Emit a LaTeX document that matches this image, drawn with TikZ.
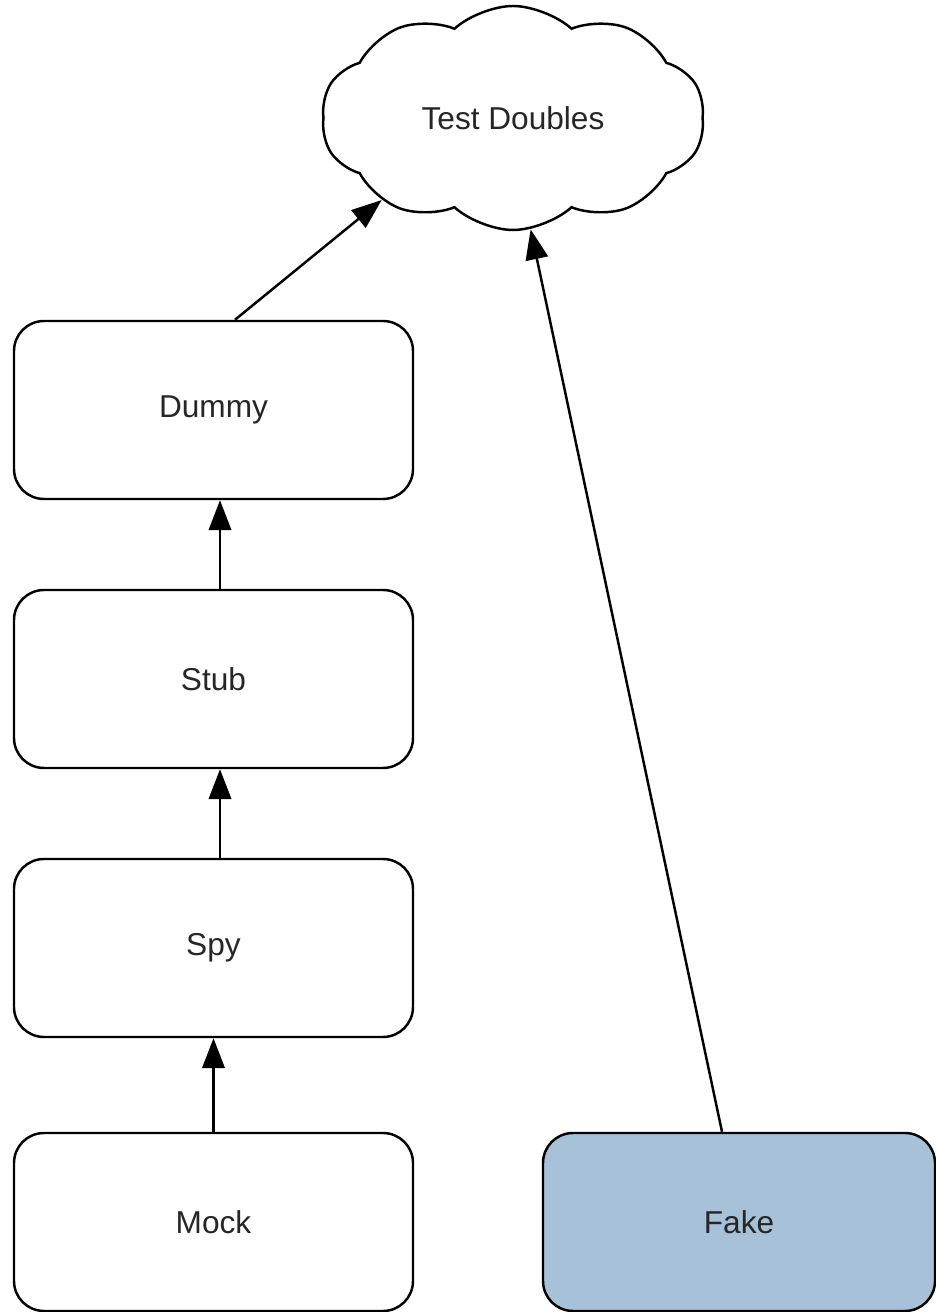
\documentclass[tikz,border=0pt]{standalone}
\usepackage{fontspec}
\setmainfont{Liberation Sans}
\usepackage{tikz}
\usetikzlibrary{arrows.meta,shapes.symbols}
\definecolor{fakeblue}{RGB}{167,194,216}

\begin{document}
\begin{tikzpicture}[
    >={Triangle[length=0.6cm,width=0.45cm]},
    line width=1.4pt,
    font=\fontsize{18}{22}\selectfont,
    kind/.style={draw,rounded corners=0.6cm,minimum width=7.98cm,minimum height=3.56cm,text=black!85},
    cloudbox/.style={draw,cloud,cloud puffs=10,cloud puff arc=85,cloud ignores aspect,
                     minimum width=7.66cm,minimum height=4.48cm,text=black!85}]
      \useasboundingbox (0,0) rectangle (18.7,26.24);

      \node[cloudbox] (doubles) at (10.26,23.88) {Test Doubles};
      \node[kind] (dummy) at (4.27,18.04) {Dummy};
      \node[kind] (stub)  at (4.27,12.66) {Stub};
      \node[kind] (spy)   at (4.27,7.28)  {Spy};
      \node[kind] (mock)  at (4.27,1.8)   {Mock};
      \node[kind,fill=fakeblue,minimum width=7.84cm] (fake) at (14.78,1.8) {Fake};

      \draw[->] ([xshift=0.43cm]dummy.north) -- (doubles.212);
      \draw[->] ([xshift=0.13cm]stub.north)  -- ([xshift=0.13cm]dummy.south);
      \draw[->] ([xshift=0.13cm]spy.north)   -- ([xshift=0.13cm]stub.south);
      \draw[->] (mock.north) -- (spy.south);
      \draw[->] ([xshift=-0.34cm]fake.north) -- (doubles.279);
    \end{tikzpicture}
\end{document}
